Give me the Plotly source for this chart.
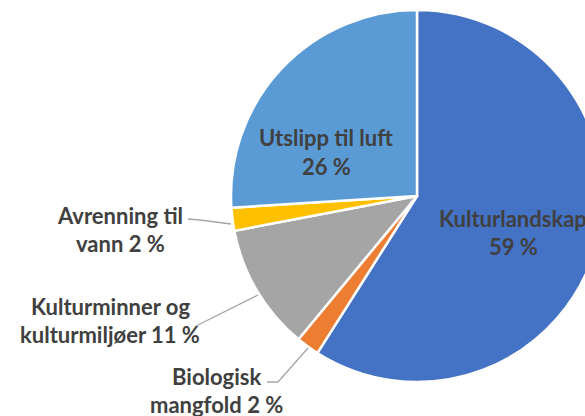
import plotly.graph_objects as go

# ---- data ----
categories = ["Kulturlandskap", "Biologisk mangfold", "Kulturminner og kulturmiljøer",
              "Avrenning til vann", "Utslipp til luft"]
values = [59, 2, 11, 2, 26]
label_line1 = ["Kulturlandskap", "Biologisk", "Kulturminner og", "Avrenning til", "Utslipp til luft"]
label_line2 = ["", "mangfold ", "kulturmiljøer ", "vann ", ""]
colors = ["#4472C4", "#ED7D31", "#A5A5A5", "#FFC000", "#5B9BD5"]

W, H = 620, 416
def px(x): return x / W
def py(y): return 1 - y / H

fig = go.Figure(go.Pie(
    labels=categories, values=values, sort=False, direction="clockwise", rotation=0,
    marker=dict(colors=colors, line=dict(color="white", width=2.5)),
    textinfo="none", hoverinfo="skip", showlegend=False,
    domain=dict(x=[px(231), px(603)], y=[py(382), py(10)]),
))

# (center x, line1 y, line2 y) in pixels
label_pos = [(513, 218, 246), (216, 376, 404), (110, 306, 334), (120, 215, 243), (326, 138, 166)]
font = dict(family="Lato", size=22, color="#404040", weight="bold")
anns = []
for l1, l2, v, (x, y1, y2) in zip(label_line1, label_line2, values, label_pos):
    for txt, y in ((l1, y1), (f"{l2}{v} %", y2)):
        anns.append(dict(text=txt, x=px(x), y=py(y), xref="paper", yref="paper",
                         xanchor="center", yanchor="middle", align="center", showarrow=False,
                         font=font))

leader_paths = [
    [(267, 382), (278, 382), (308, 348)],
    [(196, 326), (258, 295)],
    [(188, 219), (200, 220), (231, 224)],
]
shapes = []
for pts in leader_paths:
    d = "M " + " L ".join(f"{px(x)} {py(y)}" for x, y in pts)
    shapes.append(dict(type="path", path=d, xref="paper", yref="paper",
                       line=dict(color="#A6A6A6", width=1.3)))

fig.update_layout(width=W, height=H, margin=dict(l=0, r=0, t=0, b=0),
                  paper_bgcolor="white", plot_bgcolor="white",
                  annotations=anns, shapes=shapes)

fig.write_html("out.html", config={"displayModeBar": False},
               post_script="document.body.style.overflow='hidden';document.body.style.margin='0';")
